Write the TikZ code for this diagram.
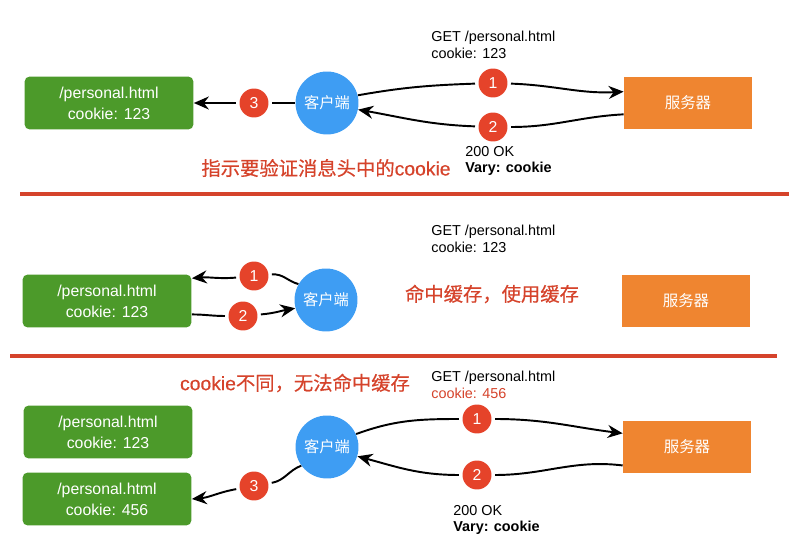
\documentclass[tikz,border=0pt]{standalone}
\usepackage{fontspec}
\setmainfont{Liberation Sans}
\newfontfamily\cjk{Noto Sans CJK SC}
\newfontfamily\cjknote[FakeBold=0.5]{Noto Sans CJK SC}
\newfontfamily\latinnote[FakeBold=0.5]{Liberation Sans}
\usepackage{xcolor}
\usetikzlibrary{arrows.meta,positioning}

\definecolor{pagegreen}{HTML}{4C9A2A}
\definecolor{clientblue}{HTML}{3E9DF3}
\definecolor{serverorange}{HTML}{EF8530}
\definecolor{stepred}{HTML}{E5432A}
\definecolor{notered}{HTML}{D5432B}

\begin{document}
\begin{tikzpicture}[
		x=0.02cm, y=-0.02cm,
		pagebox/.style={
			rectangle,
			rounded corners=3pt,
			fill=pagegreen,
			minimum width=3.38cm,
			minimum height=1.06cm,
			align=center,
			text=white,
			font=\fontsize{9}{11.9}\selectfont
		},
		clientnode/.style={
			circle,
			fill=clientblue,
			minimum size=1.26cm,
			inner sep=0pt,
			text=white,
			font=\cjk\fontsize{8.7}{10}\selectfont
		},
		servernode/.style={
			rectangle,
			fill=serverorange,
			minimum width=2.56cm,
			minimum height=1.06cm,
			text=white,
			font=\cjk\fontsize{8.8}{10}\selectfont
		},
		stepnum/.style={
			circle,
			fill=stepred,
			minimum size=0.58cm,
			inner sep=0pt,
			outer sep=2pt,
			text=white,
			font=\fontsize{9}{10}\selectfont
		},
		headertext/.style={
			align=left,
			anchor=west,
			inner sep=0pt,
			font=\fontsize{8.2}{9.6}\selectfont
		},
		notetext/.style={
			text=notered,
			inner sep=0pt,
			font=\latinnote\fontsize{11}{13}\selectfont
		},
		arrow/.style={
			-{Stealth[length=3mm,width=2.6mm]},
			line width=1.1pt
		},
		link/.style={
			line width=1.1pt
		}
		]
		
		\useasboundingbox (0,0) rectangle (806,554);
		
		% ---- 第一部分
		\node[pagebox] (page1) at (109,103) {/personal.html\\cookie: 123};
		\node[clientnode] (client1) at (327,103) {客户端};
		\node[servernode] (server1) at (688,103) {服务器};
		\node[stepnum] (s1a) at (493,83) {1};
		\node[stepnum] (s1b) at (493,127) {2};
		\node[stepnum] (s1c) at (254,103) {3};
		
		\node[headertext] (req1) at (431,45) {GET /personal.html\\cookie: 123};
		\node[headertext] (resp1) at (465,161) {200 OK\\\textbf{Vary: cookie}};
		\node[notetext] (note1) at (326,168) {{\cjknote 指示要验证消息头中的}cookie};
		
		\draw[link] (client1.14) to[out=10,in=182] (s1a);
		\draw[arrow] (s1a) to[out=-2,in=183] (server1.170);
		\draw[link] (server1.190) to[out=183,in=0] (s1b);
		\draw[arrow] (s1b) to[out=178,in=-10] (client1.-12);
		\draw[link] (client1) -- (s1c);
		\draw[arrow] (s1c) -- (page1);
		
		\draw[notered, line width=2pt] (20,194) -- (789,194);
		
		% ---- 第二部分
		\node[pagebox] (page2) at (107,301) {/personal.html\\cookie: 123};
		\node[clientnode] (client2) at (326,300) {客户端};
		\node[servernode] (server2) at (686,301) {服务器};
		\node[stepnum] (s2a) at (254,276) {1};
		\node[stepnum] (s2b) at (243,316) {2};
		
		\node[headertext] (req2) at (431,239) {GET /personal.html\\cookie: 123};
		\node[notetext] (note2) at (492,294) {\cjknote 命中缓存，使用缓存};
		
		\draw[link] (client2.150) to[out=165,in=5] (s2a);
		\draw[arrow] (s2a) to[out=185,in=5] (page2.15);
		\draw[link] (page2.-9) to[out=0,in=180] (s2b);
		\draw[arrow] (s2b) to[out=5,in=190] (client2.195);
		
		\draw[notered, line width=2pt] (10,356) -- (777,356);
		
		% ---- 第三部分
		\node[pagebox] (page3a) at (108,432) {/personal.html\\cookie: 123};
		\node[pagebox] (page3b) at (107,499) {/personal.html\\cookie: 456};
		\node[clientnode] (client3) at (327,447) {客户端};
		\node[servernode] (server3) at (687,447) {服务器};
		\node[stepnum] (s3a) at (477,419) {1};
		\node[stepnum] (s3b) at (477,475) {2};
		\node[stepnum] (s3c) at (254,486) {3};
		
		\node[headertext] (req3) at (431,385) {GET /personal.html\\\textcolor{notered}{cookie: 456}};
		\node[headertext] (resp3) at (453,520) {200 OK\\\textbf{Vary: cookie}};
		\node[notetext] (note3) at (295,383) {cookie{\cjknote 不同，无法命中缓存}};
		
		\draw[link] (client3.24) to[out=20,in=180] (s3a);
		\draw[arrow] (s3a) to[out=0,in=173] (server3.168);
		\draw[link] (server3.196) to[out=173,in=0] (s3b);
		\draw[arrow] (s3b) to[out=180,in=-15] (client3.-17);
		\draw[link] (client3.216) to[out=200,in=10] (s3c);
		\draw[arrow] (s3c) to[out=190,in=5] (page3b.east);
		
	\end{tikzpicture}
\end{document}
